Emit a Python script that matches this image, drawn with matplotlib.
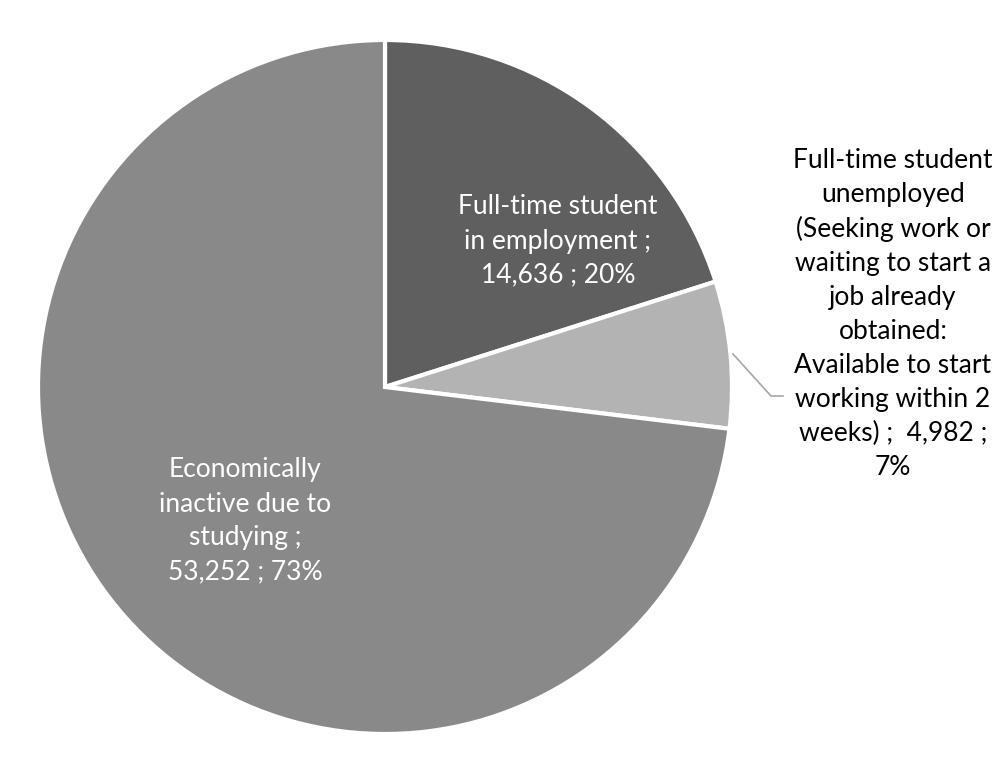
import matplotlib.pyplot as plt

categories = ["Full-time student\nin employment ;\n14,636 ; 20%",
              "Full-time student\nunemployed\n(Seeking work or\nwaiting to start a\njob already\nobtained:\nAvailable to start\nworking within 2\nweeks) ;  4,982 ;\n7%",
              "Economically\ninactive due to\nstudying ;\n53,252 ; 73%"]
values = [14636, 4982, 53252]
colors = ["#5f5f5f", "#b3b3b3", "#898989"]

W, H = 1008, 762
fig = plt.figure(figsize=(W / 100, H / 100), dpi=100)
ax = fig.add_axes([0, 0, 1, 1])

cx, cy, r = 385, H - 387, 347
ax.pie(values, colors=colors, startangle=90, counterclock=False,
       center=(cx, cy), radius=r, frame=True,
       wedgeprops=dict(edgecolor="white", linewidth=3))
ax.set_xlim(0, W)
ax.set_ylim(0, H)
ax.set_aspect("equal")
ax.axis("off")

font = dict(family=["Lato", "DejaVu Sans"], fontsize=19, ha="center", va="center", linespacing=1.45)
ax.text(558, H - 241, categories[0], color="white", **font)
ax.text(245, H - 521, categories[2], color="white", **font)
ax.text(893, H - 314, categories[1], color="black", **font)

# leader line for the small slice
ax.plot([733, 771, 783], [H - 354, H - 396, H - 396], color="#a6a6a6", lw=1.2)

fig.savefig("out.png", dpi=100)
